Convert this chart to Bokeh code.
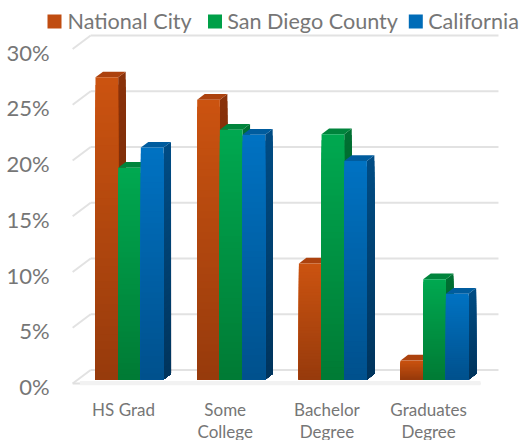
import numpy as np
from bokeh.plotting import figure
from bokeh.core.properties import value
from bokeh.embed import file_html
from bokeh.resources import INLINE

# ---------------- data ----------------
categories = ["HS Grad", "Some\nCollege", "Bachelor\nDegree", "Graduates\nDegree"]
series_names = ["National City", "San Diego County", "California"]
national_city = [27.1, 25.1, 10.4, 1.7]
san_diego_county = [19.0, 22.4, 22.0, 9.0]
california = [20.8, 21.95, 19.6, 7.7]
y_ticks = [0, 5, 10, 15, 20, 25, 30]
y_tick_labels = ["0%", "5%", "10%", "15%", "20%", "25%", "30%"]

series_values = [national_city, san_diego_county, california]

# ---------------- style ----------------
# colours: front top, front bottom, side top, side bottom, top face
palette = [
    dict(ft=(203, 83, 16), fb=(150, 58, 12), st=(138, 50, 10), sb=(105, 38, 8), tp=(172, 66, 14)),
    dict(ft=(0, 168, 80), fb=(0, 122, 52), st=(0, 112, 50), sb=(0, 82, 36), tp=(0, 132, 60)),
    dict(ft=(0, 114, 194), fb=(0, 80, 140), st=(0, 76, 132), sb=(0, 52, 92), tp=(0, 92, 158)),
]
legend_cols = ["#c04c10", "#00a048", "#006cb8"]

XS = 101.7   # px per category unit
YS = 11.15   # px per percent
W, H = 524, 440
PX0, PY0 = 123.0, 383.0   # px of category 0 / value 0 in front plane

def px2x(px):
    return (px - PX0) / XS

def py2y(py):
    return (PY0 - py) / YS

BW = 22.67 / XS           # bar width
GROUP = 3 * BW
BDX, BDY = 6 / XS, 4 / YS         # bar plane offset
DDX, DDY = 7.5 / XS, 5.7 / YS     # bar depth
WDX, WDY = 18 / XS, 13.5 / YS     # back wall offset
GRID = "#e2e2e2"
TXT = "#767676"
FONT = value("Lato")

p = figure(width=W, height=H, output_backend="svg", toolbar_location=None,
           x_range=(px2x(0), px2x(W)), y_range=(py2y(H), py2y(0)),
           min_border=0, x_axis_location=None, y_axis_location=None)
p.outline_line_color = None
p.xgrid.visible = False
p.ygrid.visible = False
p.background_fill_color = "white"

n = len(categories)
xl_edge, xr_edge = -0.5, n - 0.5 + 0.01

# back wall gridlines and left wall slants
p.multi_line(xs=[[xl_edge + WDX, xr_edge + WDX] for _ in y_ticks],
             ys=[[t + WDY, t + WDY] for t in y_ticks], line_color=GRID, line_width=2)
p.multi_line(xs=[[xl_edge, xl_edge + WDX] for _ in y_ticks],
             ys=[[t, t + WDY] for t in y_ticks], line_color=GRID, line_width=2)
# floor front edge
p.line(x=[xl_edge, xr_edge], y=[0, 0], line_color="#e0e0e0", line_width=2)
# soft shadow on floor
p.quad(left=[xl_edge + WDX * 0.4], right=[xr_edge], bottom=[-0.15], top=[BDY * 0.6],
       fill_color="#f2f2f2", line_color=None)


def hexc(c):
    return "#%02x%02x%02x" % tuple(int(round(v)) for v in c)


def lerp(c1, c2, t):
    return tuple(a + (b - a) * t for a, b in zip(c1, c2))


K = 40
for s, vals in enumerate(series_values):
    pal = palette[s]
    sx, sy, sc = [], [], []
    tx, ty = [], []
    fl, fr, fb, ft, fc = [], [], [], [], []
    for i, v in enumerate(vals):
        xl = i - GROUP / 2 + s * BW + BDX
        xr = xl + BW
        yb = BDY
        yt = v + BDY
        for k in range(K, 0, -1):
            frac = k / K
            ytop = yb + (yt - yb) * frac
            c_front = hexc(lerp(pal["fb"], pal["ft"], frac))
            c_side = hexc(lerp(pal["sb"], pal["st"], frac))
            fl.append(xl); fr.append(xr); fb.append(yb); ft.append(ytop); fc.append(c_front)
            sx.append([xr, xr + DDX, xr + DDX, xr])
            sy.append([yb, yb + DDY, ytop + DDY, ytop])
            sc.append(c_side)
        tx.append([xl, xl + DDX, xr + DDX, xr])
        ty.append([yt, yt + DDY, yt + DDY, yt])
    p.patches(xs=sx, ys=sy, fill_color=sc, line_color=None)
    p.patches(xs=tx, ys=ty, fill_color=hexc(pal["tp"]), line_color=None)
    p.quad(left=fl, right=fr, bottom=fb, top=ft, fill_color=fc, line_color=None)

# y tick labels
p.text(x=[xl_edge] * len(y_ticks), y=y_ticks, text=y_tick_labels,
       text_font=FONT, text_font_size="22px", text_color=TXT,
       text_align="right", text_baseline="middle", x_offset=-23, y_offset=3)

# category labels (two lines)
line1 = [c.split("\n")[0] for c in categories]
line2 = [c.split("\n")[1] if "\n" in c else "" for c in categories]
cx = list(range(n))
p.text(x=cx, y=[0] * n, text=line1, text_font=FONT, text_font_size="17px",
       text_color=TXT, text_align="center", text_baseline="middle", y_offset=26)
p.text(x=cx, y=[0] * n, text=line2, text_font=FONT, text_font_size="17px",
       text_color=TXT, text_align="center", text_baseline="middle", y_offset=47.5)

# legend
sq_px = [54, 214.5, 415.3]
tx_px = [67, 226.7, 427.7]
p.rect(x=[px2x(v) for v in sq_px], y=[py2y(21)] * 3, width=14, height=14,
       width_units="screen", height_units="screen", fill_color=legend_cols, line_color=None)
p.text(x=[px2x(v) for v in tx_px], y=[py2y(20.5)] * 3, text=series_names,
       text_font=FONT, text_font_size="21.6px", text_color=TXT,
       text_align="left", text_baseline="middle")

open("out.html", "w").write(file_html(p, INLINE))
